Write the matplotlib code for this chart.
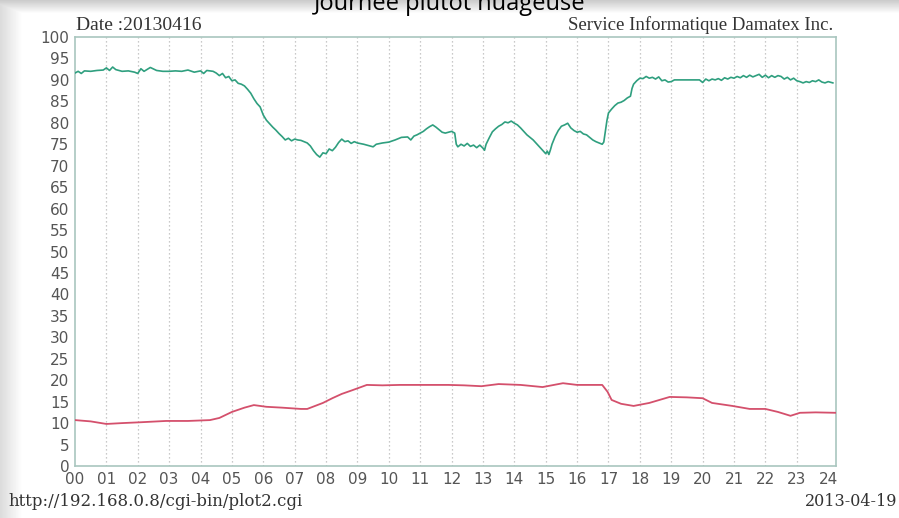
import numpy as np
import matplotlib
matplotlib.use("Agg")
import matplotlib.pyplot as plt

# Relative humidity (%) over the day, hour of day -> value
hum_hours = [0, 0.1, 0.2, 0.3, 0.5, 0.7, 0.9, 1.0, 1.1, 1.2, 1.3, 1.5, 1.7, 1.9, 2.0, 2.1, 2.2, 2.4,
             2.6, 2.8, 3.0, 3.2, 3.4, 3.6, 3.8, 4.0, 4.1, 4.2, 4.4, 4.5, 4.6, 4.7, 4.8, 4.9, 5.0, 5.1,
             5.2, 5.3, 5.4, 5.5, 5.6, 5.7, 5.8, 5.9, 6.0, 6.1, 6.2, 6.3, 6.4, 6.5, 6.6, 6.7, 6.8, 6.9,
             7.0, 7.1, 7.2, 7.3, 7.4, 7.5, 7.6, 7.7, 7.8, 7.9, 8.0, 8.1, 8.2, 8.3, 8.4, 8.5, 8.6, 8.7,
             8.8, 8.9, 9.0, 9.2, 9.4, 9.5, 9.6, 9.8, 10.0, 10.2, 10.4, 10.6, 10.7, 10.8, 10.9, 11.0,
             11.1, 11.2, 11.3, 11.4, 11.5, 11.6, 11.7, 11.8, 11.9, 12.0, 12.1, 12.15, 12.2, 12.3, 12.4,
             12.5, 12.6, 12.7, 12.8, 12.9, 13.0, 13.05, 13.1, 13.2, 13.3, 13.4, 13.5, 13.6, 13.7, 13.8,
             13.9, 14.0, 14.1, 14.2, 14.3, 14.4, 14.5, 14.6, 14.7, 14.8, 14.9, 15.0, 15.05, 15.1, 15.15,
             15.2, 15.3, 15.4, 15.5, 15.6, 15.7, 15.8, 15.9, 16.0, 16.1, 16.2, 16.3, 16.4, 16.5, 16.6,
             16.7, 16.8, 16.85, 16.9, 16.95, 17.0, 17.1, 17.2, 17.3, 17.4, 17.5, 17.6, 17.7, 17.75, 17.8,
             17.9, 18.0, 18.1, 18.2, 18.3, 18.4, 18.5, 18.6, 18.7, 18.8, 18.9, 19.0, 19.1, 19.3, 19.5,
             19.7, 19.9, 20.0, 20.1, 20.2, 20.3, 20.4, 20.5, 20.6, 20.7, 20.8, 20.9, 21.0, 21.1, 21.2,
             21.3, 21.4, 21.5, 21.6, 21.7, 21.8, 21.9, 22.0, 22.1, 22.2, 22.3, 22.4, 22.5, 22.6, 22.7,
             22.8, 22.9, 23.0, 23.1, 23.2, 23.3, 23.4, 23.5, 23.6, 23.7, 23.8, 23.9, 24.0, 24.15]
hum_values = [91.6, 92.0, 91.5, 92.1, 92.0, 92.2, 92.3, 92.8, 92.2, 93.0, 92.4, 92.0, 92.1, 91.8, 91.5,
              92.6, 92.0, 92.9, 92.2, 92.0, 92.0, 92.1, 92.0, 92.3, 91.8, 92.1, 91.5, 92.2, 92.0, 91.6,
              91.0, 91.5, 90.5, 90.8, 89.8, 90.0, 89.2, 89.0, 88.6, 87.8, 86.9, 85.6, 84.5, 83.7, 81.8,
              80.6, 79.8, 79.0, 78.3, 77.5, 76.8, 76.0, 76.4, 75.8, 76.2, 76.0, 75.9, 75.6, 75.3, 74.6,
              73.5, 72.6, 72.0, 73.0, 72.8, 73.9, 73.5, 74.3, 75.4, 76.2, 75.6, 75.8, 75.2, 75.6, 75.3,
              75.0, 74.6, 74.4, 75.0, 75.3, 75.5, 76.0, 76.6, 76.7, 76.0, 76.9, 77.2, 77.6, 78.0, 78.6,
              79.1, 79.5, 79.0, 78.4, 77.8, 77.6, 77.8, 78.0, 77.6, 75.0, 74.4, 75.0, 74.6, 75.2, 74.5,
              74.8, 74.2, 74.8, 74.1, 73.6, 75.0, 76.5, 77.9, 78.6, 79.2, 79.6, 80.2, 80.0, 80.4, 79.9,
              79.5, 78.8, 78.0, 77.2, 76.6, 76.0, 75.2, 74.4, 73.6, 72.8, 73.4, 72.6, 73.7, 75.0, 76.8,
              78.2, 79.2, 79.5, 79.9, 78.8, 78.2, 77.8, 78.0, 77.4, 77.2, 76.6, 76.0, 75.6, 75.3, 75.0,
              75.5, 78.0, 80.5, 82.3, 83.2, 84.0, 84.6, 84.8, 85.2, 85.8, 86.2, 88.0, 89.0, 89.8, 90.4,
              90.3, 90.8, 90.4, 90.6, 90.2, 90.7, 89.8, 90.0, 89.5, 89.6, 90.0, 90.0, 90.0, 90.0, 90.0,
              89.4, 90.2, 89.8, 90.2, 90.0, 90.3, 89.9, 90.5, 90.2, 90.6, 90.4, 90.8, 90.5, 91.0, 90.6,
              91.1, 90.7, 91.0, 91.3, 90.6, 91.1, 90.5, 91.0, 90.6, 91.0, 90.8, 90.2, 90.6, 90.0, 90.4,
              89.8, 89.6, 89.3, 89.6, 89.4, 89.8, 89.6, 90.0, 89.5, 89.3, 89.6, 89.3]

# Temperature (deg C) over the day
temp_hours = [0, 0.5, 1.0, 1.5, 2.1, 2.9, 3.6, 4.3, 4.6, 5.0, 5.4, 5.7, 6.1, 6.6, 7.2, 7.4, 7.9, 8.2,
              8.5, 8.85, 9.3, 9.8, 10.35, 11.0, 11.9, 12.4, 12.95, 13.5, 14.2, 14.9, 15.55, 16.0, 16.8,
              16.97, 17.1, 17.4, 17.8, 18.3, 18.95, 19.5, 20.0, 20.3, 20.95, 21.5, 22.0, 22.4, 22.8,
              23.1, 23.6, 24.25]
temp_values = [10.7, 10.4, 9.8, 10.0, 10.2, 10.5, 10.5, 10.7, 11.2, 12.6, 13.6, 14.2, 13.8, 13.6, 13.3,
               13.3, 14.7, 15.8, 16.8, 17.7, 18.9, 18.8, 18.9, 18.9, 18.9, 18.8, 18.6, 19.1, 18.9, 18.4,
               19.3, 18.9, 18.9, 17.3, 15.4, 14.5, 14.0, 14.7, 16.1, 16.0, 15.8, 14.7, 14.0, 13.3, 13.3,
               12.6, 11.7, 12.4, 12.5, 12.4]

hour_labels = ["%02d" % h for h in range(25)]
y_ticks = list(range(0, 101, 5))

fig = plt.figure(figsize=(8.99, 5.18), dpi=100)
fig.patch.set_facecolor("white")

# Page backdrop: grey strip along the top and a shaded left margin
bg = fig.add_axes([0, 0, 1, 1], zorder=-10)
H, W = 518, 899
yy, xx = np.mgrid[0:H, 0:W]
img = np.ones((H, W))
top = np.clip(yy / 13.0, 0, 1)
img = np.minimum(img, 0.80 + 0.20 * top)
left = np.clip(xx / 22.0, 0, 1)
img = np.minimum(img, 0.86 + 0.14 * left)
bg.imshow(img, cmap="gray", vmin=0, vmax=1, aspect="auto", extent=[0, W, H, 0])
bg.set_axis_off()

ax = fig.add_axes([75 / W, 1 - 466 / H, (836 - 75) / W, (466 - 37) / H])
ax.set_facecolor("white")

frame_col = "#a9c6bf"
for s in ax.spines.values():
    s.set_color(frame_col)
    s.set_linewidth(1.2)

# Hourly dotted guides
for h in range(1, 24):
    ax.axvline(h, color="#b8b8b8", linewidth=0.9, linestyle=(0, (1, 2.2)), zorder=1)

ax.plot(hum_hours, hum_values, color="#2f9f7f", linewidth=1.2, zorder=3)
ax.plot(temp_hours, temp_values, color="#d4506c", linewidth=1.3, zorder=3)

ax.set_xlim(0, 24.25)
ax.set_ylim(0, 100)
ax.set_xticks(range(25))
ax.set_xticklabels(hour_labels)
ax.set_yticks(y_ticks)
ax.set_yticklabels([str(v) for v in y_ticks])
ax.tick_params(axis="both", length=0, labelsize=11, labelcolor="#555555")
ax.tick_params(axis="x", pad=4)
ax.tick_params(axis="y", pad=4)
for lab in ax.get_xticklabels() + ax.get_yticklabels():
    lab.set_family("DejaVu Sans")

fig.text(76 / W, 1 - 30 / H, "Date :20130416", family="Liberation Serif", fontsize=14,
         color="#333333", ha="left", va="baseline")
fig.text(833 / W, 1 - 30 / H, "Service Informatique Damatex Inc.", family="Liberation Serif",
         fontsize=13.5, color="#333333", ha="right", va="baseline")
fig.text(8 / W, 1 - 506 / H, "http://192.168.0.8/cgi-bin/plot2.cgi", family="DejaVu Serif",
         fontsize=12, color="#333333", ha="left", va="baseline")
fig.text(897 / W, 1 - 506 / H, "2013-04-19", family="DejaVu Serif", fontsize=11.5,
         color="#333333", ha="right", va="baseline")

# Page heading, partly running off the top edge
fig.text(0.5, 1 - 10 / H, "Journée plutôt nuageuse", family="Open Sans", fontsize=17,
         color="black", ha="center", va="baseline")

fig.savefig("out.png", dpi=100)
